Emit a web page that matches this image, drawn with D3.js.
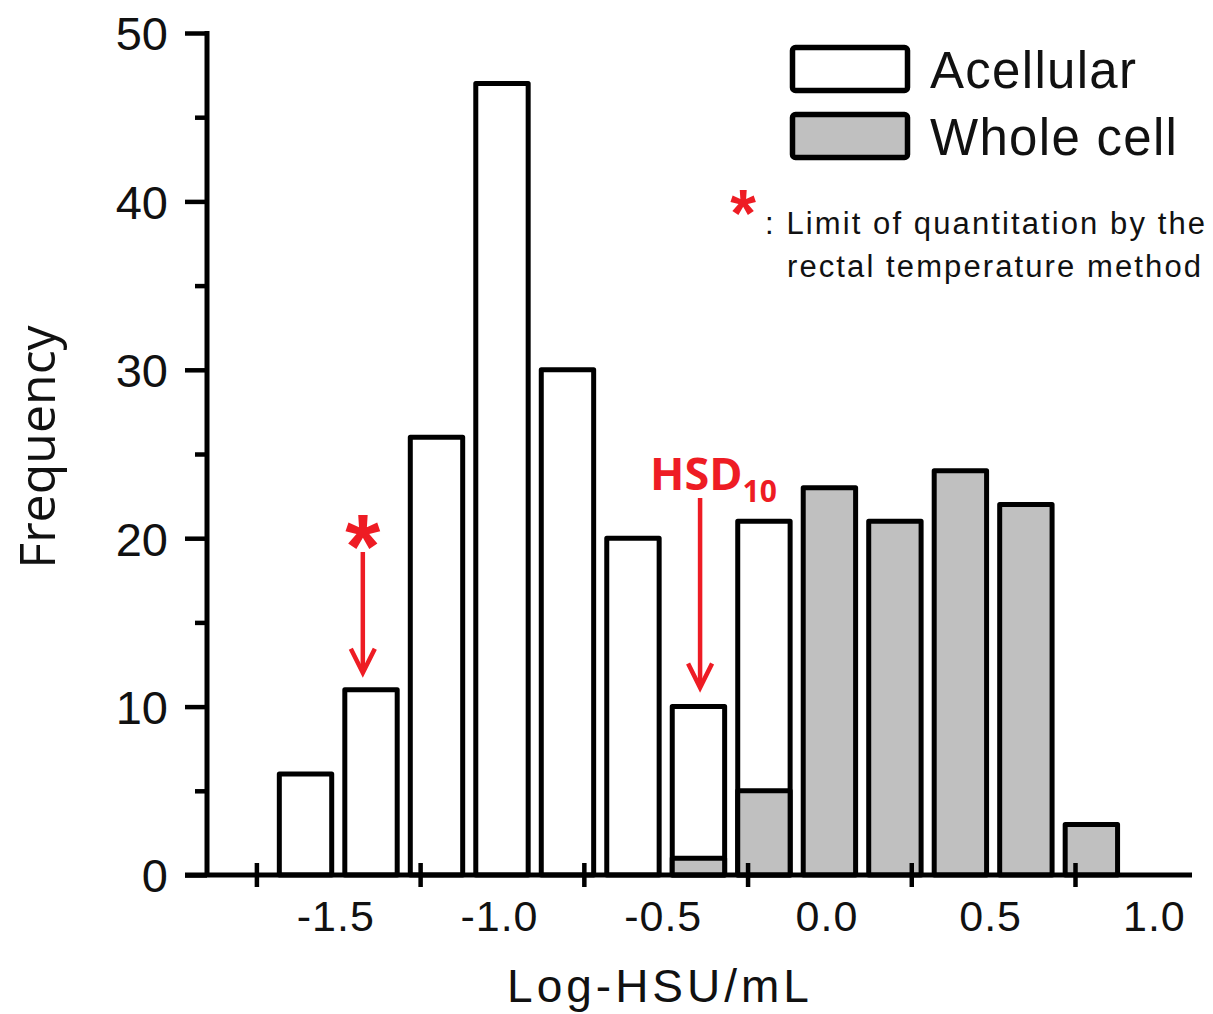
<!DOCTYPE html>
<html>
<head>
<meta charset="utf-8">
<script src="https://cdn.jsdelivr.net/npm/d3@7"></script>
<style>
html,body{margin:0;padding:0;background:#fff;}
svg{display:block;}
</style>
</head>
<body>
<svg id="chart" width="1213" height="1014"></svg>
<script>
// ---- data ----
const binCenters = [-1.6, -1.4, -1.2, -1.0, -0.8, -0.6, -0.4, -0.2, 0.0, 0.2, 0.4, 0.6, 0.8];
const acellular  = [6, 11, 26, 47, 30, 20, 10, 21, 0, 0, 0, 0, 0];
const wholeCell  = [0, 0, 0, 0, 0, 0, 1, 5, 23, 21, 24, 22, 3];
const seriesNames = ["Acellular", "Whole cell"];
const xTickMarks = [-1.75, -1.25, -0.75, -0.25, 0.25, 0.75];
const xTickLabels = [-1.5, -1.0, -0.5, 0.0, 0.5, 1.0];
const yTicks = [0, 10, 20, 30, 40, 50];
const yMinorTicks = [5, 15, 25, 35, 45];
const binWidth = 0.2;
const limitMark = -1.425; // * : limit of quantitation
const hsdMark = -0.395;   // HSD10

const svg = d3.select("#chart");
const x = d3.scaleLinear().domain([-1.75, 0.75]).range([256.4, 1075]);
const y = d3.scaleLinear().domain([0, 50]).range([875, 33]);
const barW = x(binWidth * 0.8) - x(0);
const fillGrey = "#c0c0c0";
const red = "#ee1c24";
const sans = "'Liberation Sans', Arial, sans-serif";

// bars
const gBars = svg.append("g");
function drawSeries(vals, fill) {
  gBars.selectAll(null).data(binCenters.map((c, i) => ({c, v: vals[i]})).filter(d => d.v > 0))
    .enter().append("rect")
    .attr("x", d => x(d.c) - barW / 2)
    .attr("width", barW)
    .attr("y", d => y(d.v))
    .attr("height", d => y(0) - y(d.v))
    .attr("fill", fill)
    .attr("stroke", "#000")
    .attr("stroke-width", 5)
    .attr("stroke-linejoin", "round");
}
drawSeries(acellular, "#fff");
drawSeries(wholeCell, fillGrey);

// y axis
const yAxisG = svg.append("g").attr("transform", "translate(207,0)");
yAxisG.call(d3.axisLeft(y).tickValues(yTicks).tickSize(22).tickFormat(d3.format("d")));
const yMinorG = svg.append("g").attr("transform", "translate(207,0)");
yMinorG.call(d3.axisLeft(y).tickValues(yMinorTicks).tickSize(12).tickFormat(""));
[yAxisG, yMinorG].forEach(g => {
  g.select(".domain").remove();
  g.selectAll(".tick line").attr("stroke", "#000").attr("stroke-width", 4.5);
});
yAxisG.selectAll(".tick text")
  .attr("x", -39).attr("dy", "0.36em")
  .style("font-family", sans).style("font-size", "47px").attr("fill", "#111");
svg.append("line")
  .attr("x1", 207).attr("x2", 207).attr("y1", y(50) - 2).attr("y2", y(0))
  .attr("stroke", "#000").attr("stroke-width", 5);

// x axis
svg.append("line")
  .attr("x1", 185).attr("x2", 1192).attr("y1", y(0)).attr("y2", y(0))
  .attr("stroke", "#000").attr("stroke-width", 5);
const xMarkG = svg.append("g").attr("transform", `translate(0,${y(0)})`);
xMarkG.call(d3.axisBottom(x).tickValues(xTickMarks).tickSize(12).tickFormat(""));
xMarkG.select(".domain").remove();
xMarkG.selectAll(".tick line").attr("y1", -12).attr("y2", 12).attr("stroke", "#000").attr("stroke-width", 4.5);
const xLabG = svg.append("g").attr("transform", `translate(0,${y(0)})`);
xLabG.call(d3.axisBottom(x).tickValues(xTickLabels).tickSize(0).tickFormat(d => d.toFixed(1)));
xLabG.select(".domain").remove();
xLabG.selectAll(".tick text")
  .attr("y", 56).attr("dy", 0).attr("dx", -3)
  .style("font-family", sans).style("font-size", "43px").style("letter-spacing", "1px").attr("fill", "#111");

// axis titles
svg.append("text")
  .attr("x", 660).attr("y", 1002)
  .attr("text-anchor", "middle")
  .style("font-family", sans).style("font-size", "46px").style("letter-spacing", "4px")
  .attr("fill", "#111").text("Log-HSU/mL");
svg.append("text")
  .attr("transform", "translate(55,447) rotate(-90)")
  .attr("text-anchor", "middle")
  .style("font-family", "'Open Sans', sans-serif").style("font-size", "50px")
  .attr("fill", "#111").text("Frequency");

// legend
const legend = svg.append("g");
const legFills = ["#fff", fillGrey];
seriesNames.forEach((name, i) => {
  const ly = 47.5 + i * 67;
  legend.append("rect")
    .attr("x", 792.5).attr("y", ly).attr("width", 115).attr("height", 43)
    .attr("rx", 3)
    .attr("fill", legFills[i]).attr("stroke", "#000").attr("stroke-width", 5.5);
  legend.append("text")
    .attr("x", 930).attr("y", ly + 40)
    .style("font-family", sans).style("font-size", "51px").style("letter-spacing", "1.3px")
    .attr("fill", "#111").text(name);
});

// note
svg.append("text")
  .attr("x", 743).attr("y", 236).attr("text-anchor", "middle")
  .style("font-family", sans).style("font-size", "66px").style("font-weight", "bold")
  .attr("fill", red).text("*");
svg.append("text")
  .attr("x", 765).attr("y", 234)
  .style("font-family", sans).style("font-size", "31px").style("letter-spacing", "2.1px")
  .attr("fill", "#111").text(": Limit of quantitation by the");
svg.append("text")
  .attr("x", 787).attr("y", 277)
  .style("font-family", sans).style("font-size", "31px").style("letter-spacing", "2.1px")
  .attr("fill", "#111").text("rectal temperature method");

// annotations: arrows
function arrow(xv, yTop, yTip) {
  const xp = x(xv);
  svg.append("line")
    .attr("x1", xp).attr("x2", xp).attr("y1", yTop).attr("y2", yTip - 4)
    .attr("stroke", red).attr("stroke-width", 4.5);
  svg.append("path")
    .attr("d", `M${xp - 12},${yTip - 24} L${xp},${yTip} L${xp + 12},${yTip - 24}`)
    .attr("fill", "none").attr("stroke", red).attr("stroke-width", 4.5)
    .attr("stroke-linejoin", "miter");
}
arrow(limitMark, 552, y(11) - 17);
arrow(hsdMark, 498, y(10) - 19);

svg.append("text")
  .attr("x", x(limitMark)).attr("y", 578).attr("text-anchor", "middle")
  .style("font-family", sans).style("font-size", "90px").style("font-weight", "bold")
  .attr("fill", red).text("*");

const hsd = svg.append("text")
  .attr("x", 650).attr("y", 490)
  .style("font-family", "'Open Sans', sans-serif").style("font-size", "45px").style("font-weight", "bold")
  .attr("fill", red);
hsd.append("tspan").text("HSD");
hsd.append("tspan").attr("dy", 12).style("font-size", "30px").text("10");
</script>
</body>
</html>
